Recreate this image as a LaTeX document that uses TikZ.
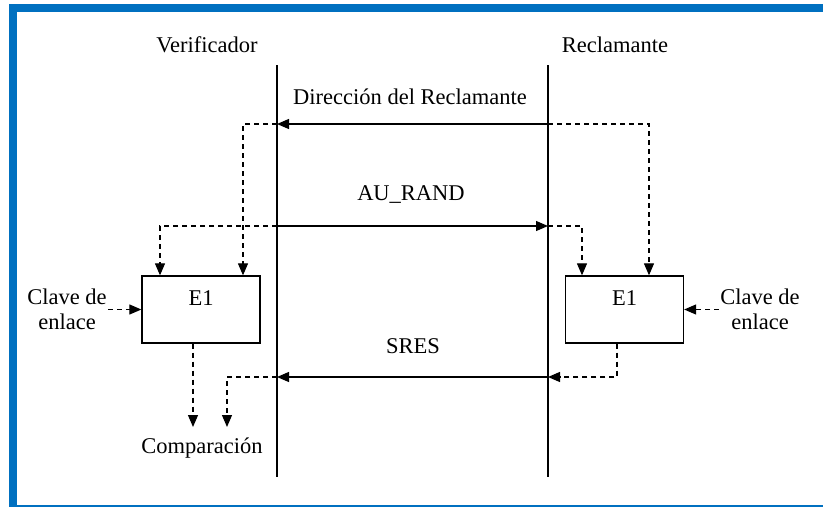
\documentclass[tikz,border=0pt]{standalone}
\usepackage{fontspec}
\setmainfont{Liberation Serif}
\usepackage{tikz}
\usetikzlibrary{arrows.meta,positioning,calc}
\definecolor{frameblue}{RGB}{0,112,192}

\begin{document}
\begin{tikzpicture}[
  x=1pt,y=-1pt,
  every node/.style={font=\rmfamily\fontsize{22.5}{25}\selectfont,inner sep=1pt},
  blk/.style={draw,line width=1.3pt,minimum width=118pt,minimum height=67pt},
  sarr/.style={line width=1.2pt,-{Triangle[length=12pt,width=10pt]}},
  darr/.style={line width=1.2pt,dash pattern=on 5pt off 4pt,-{Triangle[length=12pt,width=10pt]}},
  txt/.style={align=center}
]
  \useasboundingbox (0,0) rectangle (823,507);
  \fill[white] (0,0) rectangle (823,507);
  % marco
  \fill[frameblue] (9,4) rectangle (823,12);
  \fill[frameblue] (9,4) rectangle (17,507);
  \fill[frameblue] (17,505) rectangle (823,507);

  \node (ver) at (207,45) {Verificador};
  \node (rec) at (615,45) {Reclamante};

  \coordinate (vtop) at (277,65);  \coordinate (vbot) at (277,477);
  \coordinate (rtop) at (548,65);  \coordinate (rbot) at (548,477);
  \draw[line width=1.2pt] (vtop) -- (vbot);
  \draw[line width=1.2pt] (rtop) -- (rbot);

  \coordinate (v1) at (277,124); \coordinate (r1) at (548,124);
  \coordinate (v2) at (277,226); \coordinate (r2) at (548,226);
  \coordinate (v3) at (277,377); \coordinate (r3) at (548,377);

  \node[blk] (e1v) at (201,309.5) {};
  \node[blk] (e1r) at (624.5,309.5) {};
  \node (lblv) at (201,298) {E1};
  \node (lblr) at (624.5,298) {E1};

  \node[txt] (dir)  at (410,97)  {Dirección del Reclamante};
  \node[txt] (rand) at (411,195) {AU\_RAND};
  \node[txt] (sres) at (413,346) {SRES};

  \node[txt] (kv) at (67,309.5)  {Clave de\\enlace};
  \node[txt] (kr) at (760,309.5) {Clave de\\enlace};
  \node[txt] (cmp) at (202,448)  {Comparación};
  \coordinate (cmpa) at (193,427);
  \coordinate (cmpb) at (227,427);

  % direccion
  \draw[sarr] (r1) -- (v1);
  \draw[darr] (v1) -| ([xshift=42pt]e1v.north);
  \draw[darr] (r1) -| ([xshift=24.5pt]e1r.north);

  % au_rand
  \draw[sarr] (v2) -- (r2);
  \draw[darr] (v2) -| ([xshift=-41pt]e1v.north);
  \draw[darr] (r2) -| ([xshift=-42.5pt]e1r.north);

  % claves
  \draw[darr] (kv.east |- e1v.west) -- (e1v.west);
  \draw[darr] (kr.west |- e1r.east) -- (e1r.east);

  % sres
  \draw[darr] ([xshift=-7.5pt]e1r.south) |- (r3);
  \draw[sarr] (r3) -- (v3);
  \draw[darr] (v3) -| (cmpb);
  \draw[darr] ([xshift=-8pt]e1v.south) -- (cmpa);
\end{tikzpicture}
\end{document}
